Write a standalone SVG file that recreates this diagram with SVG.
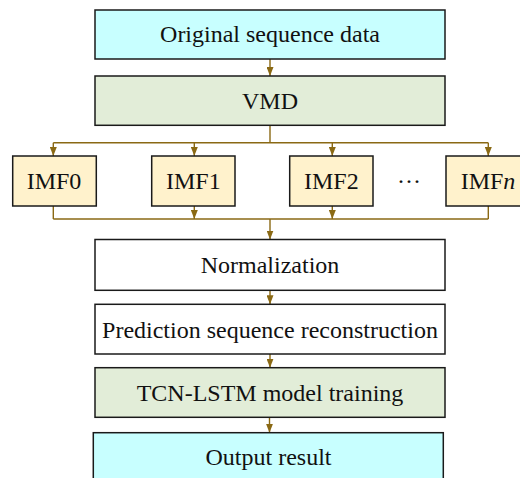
<svg xmlns="http://www.w3.org/2000/svg" width="520" height="478" viewBox="0 0 520 478">
<style>
.box{stroke:#1a1a1a;stroke-width:1.5}
.cyan{fill:#c8ffff}
.green{fill:#e2edd8}
.imf{fill:#fff2cc}
.white{fill:#ffffff}
.t{font-family:"Liberation Serif","Times New Roman",serif;font-size:24px;fill:#111;text-anchor:middle}
.c{fill:none;stroke:#8a6914;stroke-width:1.4}
</style>
<defs>
<marker id="ah" markerUnits="userSpaceOnUse" markerWidth="9" markerHeight="7" viewBox="0 0 9 7" refX="9" refY="3.5" orient="auto">
<path d="M0,0 L9,3.5 L0,7 Z" fill="#8a6914"/>
</marker>
</defs>
<rect x="0" y="0" width="520" height="478" fill="#ffffff"/>
<g id="connectors">
<line class="c" x1="270" y1="59" x2="270" y2="76" marker-end="url(#ah)"/>
<polyline class="c" points="270,125 270,142.7"/>
<line class="c" x1="53.3" y1="142.7" x2="488.3" y2="142.7"/>
<line class="c" x1="53.3" y1="142.7" x2="53.3" y2="156" marker-end="url(#ah)"/>
<line class="c" x1="194.3" y1="142.7" x2="194.3" y2="156" marker-end="url(#ah)"/>
<line class="c" x1="332.3" y1="142.7" x2="332.3" y2="156" marker-end="url(#ah)"/>
<line class="c" x1="488.3" y1="142.7" x2="488.3" y2="156" marker-end="url(#ah)"/>
<line class="c" x1="53.3" y1="206" x2="53.3" y2="219"/>
<line class="c" x1="194.3" y1="206" x2="194.3" y2="219" marker-end="url(#ah)"/>
<line class="c" x1="332.3" y1="206" x2="332.3" y2="219" marker-end="url(#ah)"/>
<line class="c" x1="488.3" y1="206" x2="488.3" y2="219"/>
<line class="c" x1="53.3" y1="219" x2="488.3" y2="219"/>
<line class="c" x1="270" y1="219" x2="270" y2="239.5" marker-end="url(#ah)"/>
<line class="c" x1="270" y1="290.3" x2="270" y2="304.3" marker-end="url(#ah)"/>
<line class="c" x1="270" y1="354" x2="270" y2="367.7" marker-end="url(#ah)"/>
<line class="c" x1="269.5" y1="417.3" x2="269.5" y2="432.7" marker-end="url(#ah)"/>
</g>
<g id="n-original">
<rect class="box cyan" x="95" y="10" width="350" height="49"/>
<text class="t" x="270" y="41.5">Original sequence data</text>
</g>
<g id="n-vmd">
<rect class="box green" x="95" y="76" width="350" height="49.3"/>
<text class="t" x="270" y="108.5">VMD</text>
</g>
<g id="n-imf0">
<rect class="box imf" x="12.7" y="156" width="83.6" height="50"/>
<text class="t" x="54" y="188.5">IMF0</text>
</g>
<g id="n-imf1">
<rect class="box imf" x="151.7" y="156" width="83.3" height="50"/>
<text class="t" x="193.3" y="188.5">IMF1</text>
</g>
<g id="n-imf2">
<rect class="box imf" x="289.7" y="156" width="83.3" height="50"/>
<text class="t" x="331.3" y="188.5">IMF2</text>
</g>
<g id="n-dots">
<text class="t" x="409" y="188.5">···</text>
</g>
<g id="n-imfn">
<rect class="box imf" x="446" y="156" width="83.6" height="50"/>
<text class="t" x="488" y="188.5">IMF<tspan font-style="italic">n</tspan></text>
</g>
<g id="n-normalization">
<rect class="box white" x="95" y="239.5" width="350" height="50.8"/>
<text class="t" x="270" y="273">Normalization</text>
</g>
<g id="n-prediction">
<rect class="box white" x="95" y="304.3" width="350" height="49.7"/>
<text class="t" x="270" y="337.5">Prediction sequence reconstruction</text>
</g>
<g id="n-tcn">
<rect class="box green" x="95" y="367.7" width="350" height="49.6"/>
<text class="t" x="270" y="401">TCN-LSTM model training</text>
</g>
<g id="n-output">
<rect class="box cyan" x="93.3" y="432.7" width="350" height="60"/>
<text class="t" x="268.5" y="465">Output result</text>
</g>
</svg>
